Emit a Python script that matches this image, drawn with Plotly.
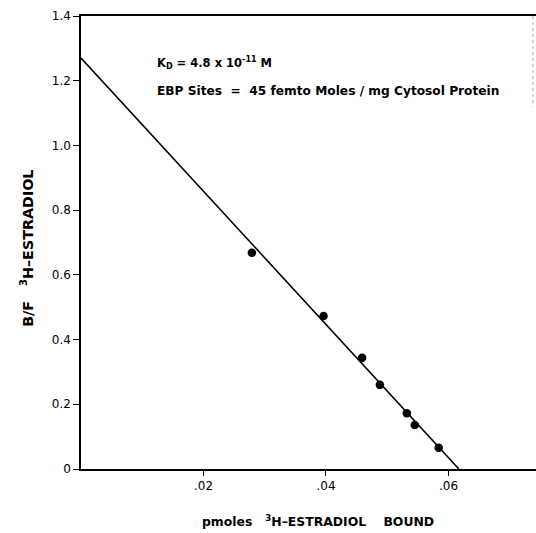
import plotly.graph_objects as go

# Data (Scatchard plot)
bound_pmol = [0.0279, 0.0396, 0.0459, 0.0488, 0.0532, 0.0545, 0.0584]
bf_ratio = [0.668, 0.473, 0.344, 0.260, 0.172, 0.136, 0.066]

fit_x = [0.0, 0.0617]
fit_y = [1.27, 0.0]

x_tick_vals = [0.02, 0.04, 0.06]
x_tick_text = [".02", ".04", ".06"]
y_tick_vals = [0, 0.2, 0.4, 0.6, 0.8, 1.0, 1.2, 1.4]
y_tick_text = ["0", "0.2", "0.4", "0.6", "0.8", "1.0", "1.2", "1.4"]

FONT = "DejaVu Sans"

fig = go.Figure()
fig.add_trace(go.Scatter(x=fit_x, y=fit_y, mode="lines",
                         line=dict(color="black", width=1.6), showlegend=False,
                         cliponaxis=False, hoverinfo="skip"))
fig.add_trace(go.Scatter(x=bound_pmol, y=bf_ratio, mode="markers",
                         marker=dict(color="black", size=8.5), showlegend=False,
                         cliponaxis=False))

fig.add_annotation(x=0.0121, y=1.255, xref="x", yref="y", xanchor="left", yanchor="middle",
                   text="<b>K<sub>D</sub> = 4.8 x 10<sup>-11</sup> M</b>",
                   showarrow=False, font=dict(family=FONT, size=11.5, color="black"))
fig.add_annotation(x=0.0121, y=1.168, xref="x", yref="y", xanchor="left", yanchor="middle",
                   text="<b>EBP Sites  =  45 femto Moles / mg Cytosol Protein</b>",
                   showarrow=False, font=dict(family=FONT, size=12.2, color="black"))

# axis titles
fig.add_annotation(x=0.521, y=-0.115, xref="paper", yref="paper", xanchor="center", yanchor="middle",
                   text="<b>pmoles   <sup>3</sup>H–ESTRADIOL    BOUND</b>",
                   showarrow=False, font=dict(family=FONT, size=12.4, color="black"))
fig.add_annotation(x=-0.119, y=0.488, xref="paper", yref="paper", xanchor="center", yanchor="middle",
                   text="<b>B/F   <sup>3</sup>H–ESTRADIOL</b>", textangle=-90,
                   showarrow=False, font=dict(family=FONT, size=14.3, color="black"))

# faint scan edge on the right
fig.add_shape(type="line", xref="paper", yref="y", x0=0.9934, x1=0.9934, y0=1.4, y1=1.12,
              line=dict(color="#aaaaaa", width=1, dash="dot"))

fig.update_layout(
    width=536, height=533,
    margin=dict(l=81, r=0, t=16, b=64),
    paper_bgcolor="white", plot_bgcolor="white",
    font=dict(family=FONT, size=12, color="black"),
    xaxis=dict(range=[0, 0.07429], tickvals=x_tick_vals, ticktext=x_tick_text,
               ticks="outside", ticklen=5, tickwidth=1.2, tickcolor="black",
               showline=True, linecolor="black", linewidth=1.5, mirror=True,
               showgrid=False, zeroline=False, automargin=False,
               tickfont=dict(size=12)),
    yaxis=dict(range=[0, 1.4], tickvals=y_tick_vals, ticktext=y_tick_text,
               ticks="outside", ticklen=6, tickwidth=1.2, tickcolor="black",
               showline=True, linecolor="black", linewidth=1.5,
               showgrid=False, zeroline=False, automargin=False,
               tickfont=dict(size=12)),
)

# remove the browser's default 8px body margin so the figure fills the window
fig.write_html("out.html",
               config={"displayModeBar": False},
               post_script="document.body.style.margin='0';document.body.style.overflow='hidden';")
